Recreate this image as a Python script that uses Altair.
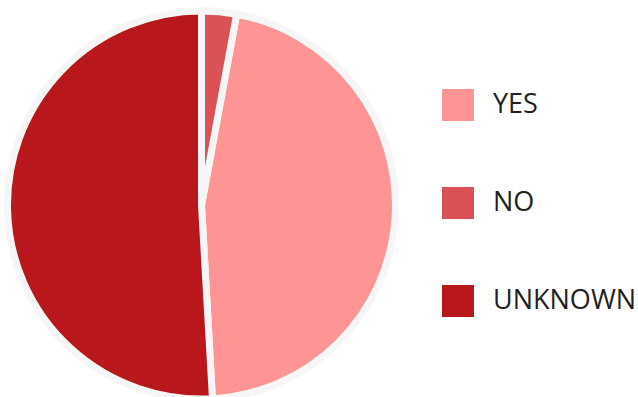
import altair as alt
import pandas as pd

categories = ["YES", "NO", "UNKNOWN"]
values = [46.2, 2.9, 50.9]
pie_sequence = ["NO", "YES", "UNKNOWN"]   # clockwise from 12 o'clock
colors = ["#FF9494", "#D95256", "#B8171B"]

df = pd.DataFrame({"answer": categories, "share": values})
df["seq"] = [pie_sequence.index(c) for c in categories]

bg = alt.Chart(pd.DataFrame({"v": [1]})).mark_arc(
    radius=198, color="#F6F6F6"
).encode(theta=alt.Theta("v:Q"), x=alt.value(201.5), y=alt.value(205))

pie = alt.Chart(df).mark_arc(
    radius=194, stroke="#F6F6F6", strokeWidth=7
).encode(
    theta=alt.Theta("share:Q", stack=True),
    order=alt.Order("seq:Q", sort="ascending"),
    color=alt.Color(
        "answer:N",
        scale=alt.Scale(domain=categories, range=colors),
        legend=alt.Legend(
            title=None,
            orient="none",
            legendX=442,
            legendY=89,
            symbolType="square",
            symbolSize=1024,
            symbolStrokeWidth=0,
            labelFontSize=27,
            labelFont="Open Sans",
            labelColor="#231F20",
            labelOffset=19,
            rowPadding=66,
            labelLimit=300,
        ),
    ),
    x=alt.value(201.5),
    y=alt.value(205),
)

chart = alt.layer(bg, pie).properties(
    width=638, height=397, autosize=alt.AutoSizeParams(type="none"), padding=0
).configure_view(stroke=None)

chart.save("out.html", embed_options={"renderer": "svg", "actions": False})
